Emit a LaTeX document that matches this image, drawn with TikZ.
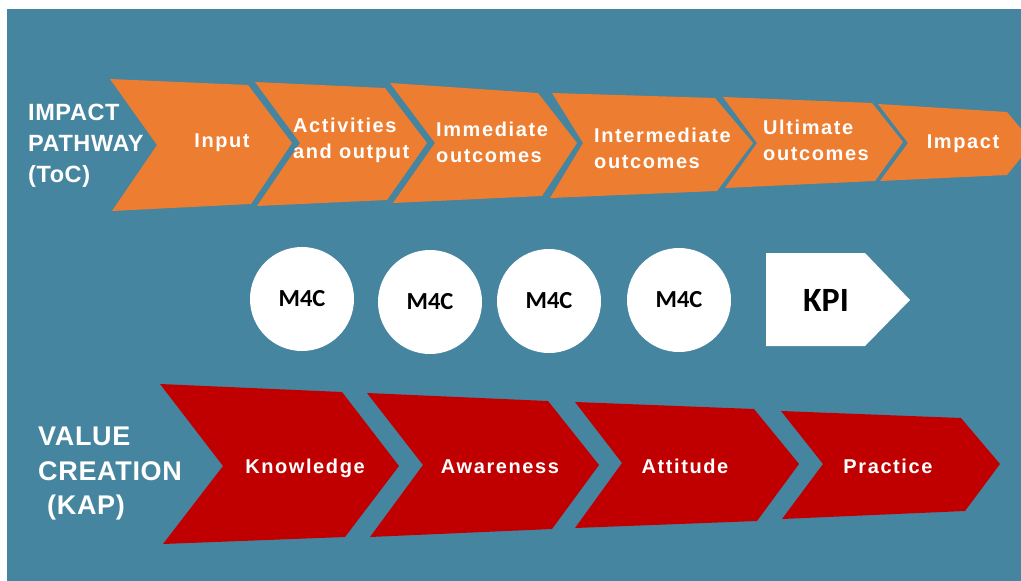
\documentclass[tikz,border=0pt]{standalone}
\usepackage{fontspec}
\newfontfamily\chevfont[LetterSpace=8]{Liberation Sans}
\newfontfamily\headfont[LetterSpace=2.5]{Liberation Sans}
\newfontfamily\markfont{Carlito}
\definecolor{panel}{HTML}{4685A0}
\definecolor{stage}{HTML}{ED7D31}
\definecolor{kap}{HTML}{C00000}
\begin{document}
\begin{tikzpicture}[x=1pt,y=-1pt,
  toc/.style={fill=stage},
  kapshape/.style={fill=kap},
  lbl/.style={text=white,inner sep=0pt,align=left,
    font={\chevfont\bfseries\fontsize{20}{26}\selectfont}},
  head/.style={text=white,inner sep=0pt,align=left},
  m4c/.style={circle,fill=white,minimum size=104pt,inner sep=0pt,
    font={\markfont\bfseries\fontsize{24.5}{26}\selectfont}},
  kpi/.style={text=black,inner sep=0pt,
    font={\markfont\bfseries\fontsize{34}{36}\selectfont}}]
\useasboundingbox (0,0) rectangle (1021,581);
\clip (0,0) rectangle (1021,581);
\fill[white] (0,0) rectangle (1021,581);
\fill[panel] (7,9) rectangle (1021,581);

% Impact pathway (ToC)
\fill[toc] (110,79) -- (248,85) -- (292,143) -- (251,204) -- (112,211) -- (157,145) -- cycle;
\fill[toc] (255,82) -- (385,88) -- (427,143) -- (387,200) -- (257,206) -- (300,143) -- cycle;
\fill[toc] (390,83) -- (538,93) -- (577,143) -- (542,196) -- (393,203) -- (435,143) -- cycle;
\fill[toc] (552,93) -- (715,98) -- (753,143) -- (717,191) -- (550,198) -- (583,143) -- cycle;
\fill[toc] (723,97) -- (872,103) -- (903,142) -- (875,181) -- (725,188) -- (757,143) -- cycle;
\fill[toc] (878,104) -- (1007,112) -- (1033,143) -- (1007,175) -- (880,181) -- (908,143) -- cycle;

\node[head,anchor=west,font={\headfont\bfseries\fontsize{23.5}{31}\selectfont}] (tochead) at (28,146) {IMPACT\\PATHWAY\\(ToC)};
\node[lbl,anchor=base] (input) at (222,147) {Input};
\node[lbl,anchor=west] (activ) at (293,140) {Activities\\and output};
\node[lbl,anchor=west] (immed) at (436,142) {Immediate\\outcomes};
\node[lbl,anchor=west] (inter) at (594,148) {Intermediate\\outcomes};
\node[lbl,anchor=west] (ultim) at (763,140) {Ultimate\\outcomes};
\node[lbl,anchor=base] (impact) at (963,148) {Impact};

% Measurement row
\node[m4c] (m1) at (302,299) {M4C};
\node[m4c] (m2) at (430,302) {M4C};
\node[m4c] (m3) at (549,301) {M4C};
\node[m4c] (m4) at (679,300) {M4C};
\fill[white] (766,253) -- (865,253) -- (910,300) -- (865,346) -- (766,346) -- cycle;
\node[kpi] (kpi) at (826,300) {KPI};

% Value creation (KAP)
\fill[kapshape] (160,384) -- (342,392) -- (399,466) -- (345,537) -- (163,544) -- (223,466) -- cycle;
\fill[kapshape] (367,393) -- (548,401) -- (599,465) -- (552,529) -- (370,537) -- (423,465) -- cycle;
\fill[kapshape] (575,402) -- (754,409) -- (799,464) -- (757,521) -- (575,528) -- (622,463) -- cycle;
\fill[kapshape] (781,411) -- (961,418) -- (1000,464) -- (965,511) -- (782,519) -- (823,464) -- cycle;

\node[head,anchor=west,font={\headfont\bfseries\fontsize{27}{34.5}\selectfont}] (kaphead) at (38,474) {VALUE\\CREATION\\\hspace*{9pt}(KAP)};
\node[lbl,anchor=base] (know) at (305,473) {Knowledge};
\node[lbl,anchor=base] (aware) at (500,473) {Awareness};
\node[lbl,anchor=base] (att) at (685,473) {Attitude};
\node[lbl,anchor=base] (prac) at (888,473) {Practice};
\end{tikzpicture}
\end{document}
